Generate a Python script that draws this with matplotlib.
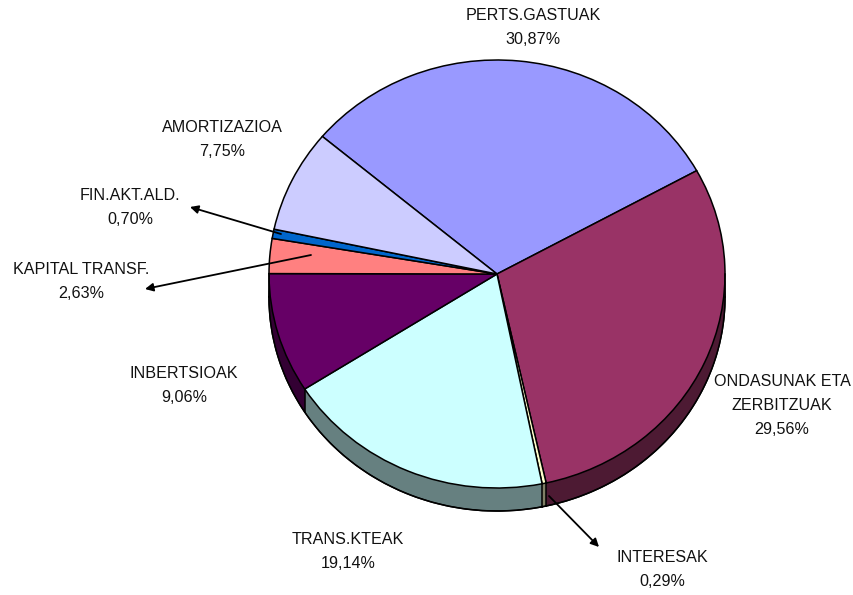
import matplotlib
matplotlib.use('Agg')
import matplotlib.pyplot as plt
import numpy as np

plt.rcParams['font.family'] = ['Liberation Sans', 'DejaVu Sans']

labels = ['PERTS.GASTUAK', 'ONDASUNAK ETA\nZERBITZUAK', 'INTERESAK', 'TRANS.KTEAK',
          'INBERTSIOAK', 'KAPITAL TRANSF.', 'FIN.AKT.ALD.', 'AMORTIZAZIOA']
values = [30.87, 29.56, 0.29, 19.14, 9.06, 2.63, 0.70, 7.75]
top_colors = ['#9999FF', '#993366', '#FFFFCC', '#CCFFFF', '#660066', '#FF8080', '#0066CC', '#CCCCFF']
side_colors = ['#4D4D80', '#4D1A33', '#808066', '#668080', '#330033', '#804040', '#003366', '#666680']
# label centre in pixels of the reference
label_pos = [(533, 27), (782, 405), (662, 570), (348, 551), (184, 385), (81, 281), (130, 207), (222, 139)]

W, H = 854, 595
cx, cy, rx, ry = 497, 274, 228, 214
depth = 23
lw = 1.1

fig = plt.figure(figsize=(W / 100, H / 100), dpi=100)
ax = fig.add_axes([(cx - rx) / W, 1 - (cy + ry) / H, 2 * rx / W, 2 * ry / H])


def pie_at(dy, colors, edge):
    wedges, _ = ax.pie(values, colors=colors, startangle=140, counterclock=False,
                       center=(0, -dy / ry), radius=1,
                       wedgeprops=dict(edgecolor=edge, linewidth=lw if edge else 0))
    for w in wedges:
        w.set_clip_on(False)


# side of the cake, stacked from the bottom up
pie_at(depth, side_colors, 'black')
for d in range(depth - 1, 0, -1):
    pie_at(d, side_colors, None)

# outline and slice joints of the side
t = np.radians(np.linspace(0, -180, 200))
ax.plot(np.cos(t), np.sin(t) - depth / ry, color='black', lw=lw, clip_on=False)
ax.plot([-1, -1], [0, -depth / ry], color='black', lw=lw, clip_on=False)
ax.plot([1, 1], [0, -depth / ry], color='black', lw=lw, clip_on=False)
edges = 140 - np.cumsum(values) * 3.6
for a in edges:
    x, y = np.cos(np.radians(a)), np.sin(np.radians(a))
    if y < 0:
        ax.plot([x, x], [y, y - depth / ry], color='black', lw=lw, clip_on=False)

pie_at(0, top_colors, 'black')
ax.set_xlim(-1, 1)
ax.set_ylim(-1, 1)
ax.set_aspect('auto')
ax.axis('off')

# labels
for name, val, (px, py) in zip(labels, values, label_pos):
    txt = name + '\n' + f'{val:.2f}'.replace('.', ',') + '%'
    fig.text(px / W, 1 - py / H, txt, ha='center', va='center', fontsize=11.6,
             color='#111111', linespacing=1.75)


def arrow(p_from, p_to):
    ax2.annotate('', xy=p_to, xytext=p_from,
                 arrowprops=dict(arrowstyle='-|>', color='black', lw=1.3,
                                 mutation_scale=12, shrinkA=0, shrinkB=0))


ax2 = fig.add_axes([0, 0, 1, 1], facecolor='none')
ax2.set_xlim(0, W)
ax2.set_ylim(H, 0)
ax2.axis('off')
arrow((549, 496), (599, 547))
arrow((311, 255), (145, 289))
arrow((281, 234), (190, 207))

fig.savefig('out.png', dpi=100)
